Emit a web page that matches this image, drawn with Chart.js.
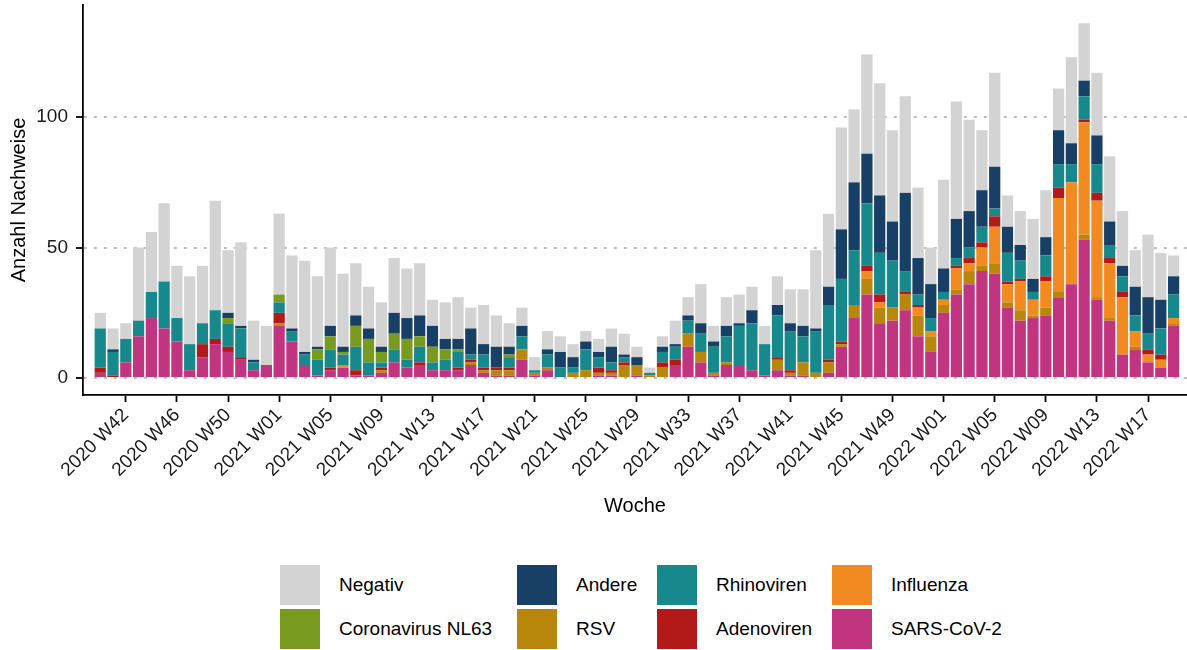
<!DOCTYPE html>
<html>
<head>
<meta charset="utf-8">
<script src="https://cdn.jsdelivr.net/npm/chart.js@4.4.1/dist/chart.umd.min.js"></script>
<style>
  body { margin: 0; background: #fff; }
  #wrap { position: relative; width: 1187px; height: 650px; font-family: "Liberation Sans", Arial, sans-serif; }
  #box { position: absolute; left: 0; top: 0; width: 1187px; height: 522px; }
  .key { position: absolute; width: 40px; height: 40px; }
  .lab { position: absolute; font-size: 19px; line-height: 40px; color: #000; white-space: nowrap; }
</style>
</head>
<body>
<div id="wrap">
  <div id="box"><canvas id="chart"></canvas></div>
  <div id="legend"></div>
</div>
<script>
// Kalenderwochen 2020 W40 - 2022 W19
const weeks = [
  '2020 W40','2020 W41','2020 W42','2020 W43','2020 W44','2020 W45','2020 W46','2020 W47','2020 W48','2020 W49',
  '2020 W50','2020 W51','2020 W52','2020 W53','2021 W01','2021 W02','2021 W03','2021 W04','2021 W05','2021 W06',
  '2021 W07','2021 W08','2021 W09','2021 W10','2021 W11','2021 W12','2021 W13','2021 W14','2021 W15','2021 W16',
  '2021 W17','2021 W18','2021 W19','2021 W20','2021 W21','2021 W22','2021 W23','2021 W24','2021 W25','2021 W26',
  '2021 W27','2021 W28','2021 W29','2021 W30','2021 W31','2021 W32','2021 W33','2021 W34','2021 W35','2021 W36',
  '2021 W37','2021 W38','2021 W39','2021 W40','2021 W41','2021 W42','2021 W43','2021 W44','2021 W45','2021 W46',
  '2021 W47','2021 W48','2021 W49','2021 W50','2021 W51','2021 W52','2022 W01','2022 W02','2022 W03','2022 W04',
  '2022 W05','2022 W06','2022 W07','2022 W08','2022 W09','2022 W10','2022 W11','2022 W12','2022 W13','2022 W14',
  '2022 W15','2022 W16','2022 W17','2022 W18','2022 W19'
];

const tickWeeks = ['2020 W42','2020 W46','2020 W50','2021 W01','2021 W05','2021 W09','2021 W13','2021 W17',
  '2021 W21','2021 W25','2021 W29','2021 W33','2021 W37','2021 W41','2021 W45','2021 W49',
  '2022 W01','2022 W05','2022 W09','2022 W13','2022 W17'];
const yTicks = [0, 50, 100];

// Anzahl Nachweise je Woche (von unten nach oben gestapelt)
const sarsCov2 = [2,0,6,16,23,19,14,3,8,13, 10,7,3,5,20,14,5,1,3,4, 1,1,2,6,4,5,3,3,3,5,
  2,1,1,7,1,3,0,0,0,1, 1,0,1,0,0,5,12,6,1,5, 5,3,1,3,1,1,0,2,12,23,
  32,21,22,26,16,10,25,32,36,41, 40,27,22,23,24,31,36,53,30,22, 9,11,6,4,20];
const rsv = [0,0,0,0,0,0,0,0,0,0, 0,0,0,0,1,0,0,0,0,0, 0,0,1,0,0,0,0,0,0,1,
  1,2,2,4,1,1,0,2,3,1, 1,5,4,1,4,0,5,4,1,1, 0,0,0,4,1,5,2,4,1,5,
  6,6,5,6,8,6,3,2,5,2, 4,2,4,1,3,2,0,2,1,1, 0,1,0,0,1];
const influenza = [0,0,0,0,0,0,0,0,0,0, 0,0,0,0,0,0,0,0,0,1, 0,0,0,0,0,0,0,0,0,0,
  0,0,0,0,0,0,0,0,0,0, 0,0,0,0,0,0,0,0,0,0, 0,0,0,0,0,0,0,0,0,0,
  3,2,0,0,3,2,2,8,3,7, 14,7,11,6,10,36,39,43,37,21, 22,6,3,3,2];
const adenoviren = [2,1,0,0,0,0,0,0,5,2, 2,1,0,0,4,0,0,0,1,0, 2,0,1,0,0,1,0,0,1,1,
  1,1,1,0,0,0,0,0,0,2, 1,1,0,0,2,2,0,0,0,0, 0,0,0,1,1,0,0,1,1,0,
  2,3,0,1,1,0,0,1,2,2, 4,1,1,0,2,4,0,1,3,2, 2,0,2,2,0];
const rhinoviren = [15,9,9,6,10,18,9,10,8,11, 9,11,3,0,4,4,4,6,7,4, 9,5,2,5,3,6,3,4,6,2,
  5,0,4,5,1,5,4,2,8,4, 3,2,0,1,4,5,5,7,10,10, 15,18,12,16,15,10,16,21,24,21,
  24,16,18,8,4,5,3,3,4,6, 3,11,7,3,8,9,7,9,11,5, 6,6,6,10,9];
const nl63 = [0,0,0,0,0,0,0,0,0,0, 2,0,0,0,3,0,0,4,5,1, 8,9,4,6,8,4,6,4,1,0,
  0,0,1,0,0,0,0,0,0,0, 0,0,0,0,0,0,0,0,0,0, 0,0,0,0,0,0,0,0,0,0,
  0,0,0,0,0,0,0,0,0,0, 0,0,0,0,0,0,0,0,0,0, 0,0,0,0,0];
const andere = [0,1,0,0,0,0,0,0,0,0, 2,1,1,0,0,1,1,1,4,2, 4,4,2,8,8,8,8,4,4,10,
  4,8,3,4,0,2,6,4,3,2, 6,1,3,0,2,1,2,4,2,4, 1,5,0,4,3,4,1,7,19,26,
  19,22,15,30,14,13,9,15,14,14, 16,10,6,5,7,13,8,6,11,9, 4,11,14,11,7];
const negativ = [6,8,6,28,23,30,20,26,22,42, 24,32,15,15,31,28,35,27,30,28, 20,16,17,21,19,20,10,14,16,8,
  15,12,9,7,5,7,6,5,4,5, 7,8,4,2,4,9,7,15,6,11, 11,9,7,11,13,14,30,28,39,28,
  38,43,35,37,27,14,34,45,35,23, 36,12,13,23,18,16,33,22,24,25, 21,14,24,18,8];

const series = [
  { name: 'SARS-CoV-2', values: sarsCov2, color: '#c13480' },
  { name: 'RSV', values: rsv, color: '#b8860b' },
  { name: 'Influenza', values: influenza, color: '#f28a22' },
  { name: 'Adenoviren', values: adenoviren, color: '#b11a18' },
  { name: 'Rhinoviren', values: rhinoviren, color: '#17898c' },
  { name: 'Coronavirus NL63', values: nl63, color: '#789b1f' },
  { name: 'Andere', values: andere, color: '#183f65' },
  { name: 'Negativ', values: negativ, color: '#d3d3d3' }
];

const legendOrder = ['Negativ','Andere','Rhinoviren','Influenza','Coronavirus NL63','RSV','Adenoviren','SARS-CoV-2'];

// legend (2 Zeilen x 4 Spalten)
const colLeft = [280, 517, 657, 832];
const rowTop = [565, 609];
const legend = document.getElementById('legend');
legendOrder.forEach((name, k) => {
  const s = series.find(d => d.name === name);
  const left = colLeft[k % 4], top = rowTop[Math.floor(k / 4)];
  const key = document.createElement('div');
  key.className = 'key';
  key.style.left = left + 'px'; key.style.top = top + 'px'; key.style.background = s.color;
  const lab = document.createElement('div');
  lab.className = 'lab';
  lab.style.left = (left + 59) + 'px'; lab.style.top = top + 'px';
  lab.textContent = name;
  legend.appendChild(key); legend.appendChild(lab);
});

Chart.defaults.font.family = '"Liberation Sans", Arial, sans-serif';

new Chart(document.getElementById('chart'), {
  type: 'bar',
  data: {
    datasets: series.map(s => ({
      label: s.name,
      data: s.values.map((v, i) => ({ x: i, y: v })),
      backgroundColor: s.color,
      borderWidth: 0,
      categoryPercentage: 1,
      barPercentage: 0.88
    }))
  },
  options: {
    responsive: true,
    maintainAspectRatio: false,
    animation: false,
    layout: { padding: { top: 5, right: 0, bottom: 0, left: 0 } },
    plugins: { legend: { display: false }, tooltip: { enabled: false } },
    scales: {
      x: {
        type: 'linear', stacked: true, offset: false,
        min: -1.35, max: 85.05,
        afterBuildTicks: s => { s.ticks = tickWeeks.map(w => ({ value: weeks.indexOf(w) })); },
        afterFit: s => { s.height = 127; s.paddingRight = 0; },
        grid: { drawOnChartArea: false, offset: false, tickLength: 7, tickColor: '#000', tickWidth: 1.8 },
        border: { color: '#000', width: 1.8 },
        ticks: { autoSkip: false, maxRotation: 45, minRotation: 45, padding: 2, color: '#1a1a1a',
          font: { size: 19 }, callback: v => weeks[v] },
        title: { display: true, text: 'Woche', color: '#000', font: { size: 20 }, padding: { top: 0, bottom: 4 } }
      },
      y: {
        stacked: true, min: -6.5, max: 143,
        afterBuildTicks: s => { s.ticks = yTicks.map(v => ({ value: v })); },
        afterFit: s => { s.width = 83; s.paddingTop = 0; s.paddingBottom = 0; },
        grid: { color: '#bdbdbd', lineWidth: 2, tickLength: 7, tickColor: '#000', tickWidth: 1.8 },
        border: { color: '#000', width: 1.8, dash: [3, 7] },
        ticks: { padding: 8, color: '#1a1a1a', font: { size: 19 } },
        title: { display: true, text: 'Anzahl Nachweise', color: '#000', font: { size: 20 }, padding: { top: 7, bottom: 0 } }
      }
    }
  }
});
</script>
</body>
</html>
